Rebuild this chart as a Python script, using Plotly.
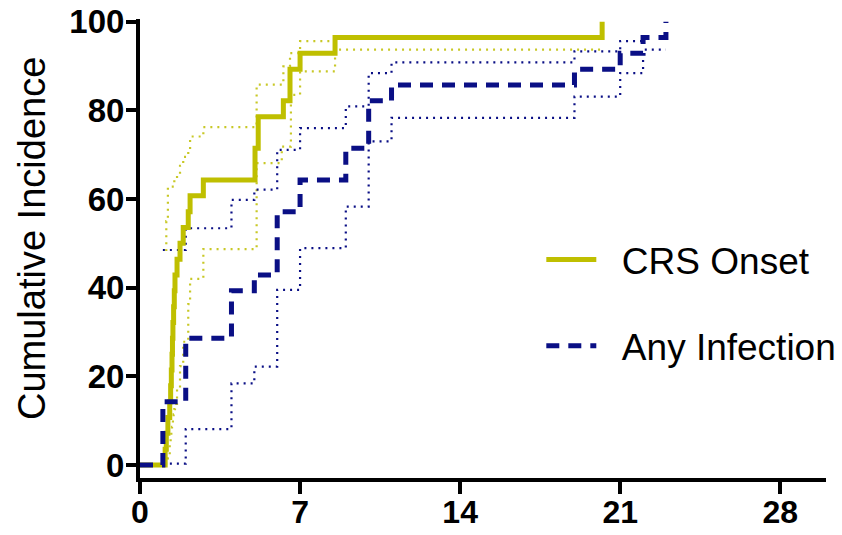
import plotly.graph_objects as go

# ---------------- data ----------------
# CRS onset (cumulative incidence, %)
crs_t = [0, 1.10, 1.15, 1.22, 1.30, 1.34, 1.37, 1.40, 1.42, 1.44, 1.47, 1.50, 1.53,
         1.62, 1.75, 1.89, 2.11, 2.19, 2.77, 5.03, 5.17, 6.27, 6.56, 7.00, 8.53, 20.21]
crs_y = [0, 3.57, 7.14, 10.71, 14.29, 17.86, 21.43, 25.00, 28.57, 32.14, 35.71, 39.29, 42.86,
         46.43, 50.00, 53.57, 57.14, 60.71, 64.29, 71.43, 78.57, 82.14, 89.29, 92.86, 96.43, 100]

crs_up_t = [1.10, 1.15, 1.22, 1.50, 1.62, 1.75, 1.89, 2.11, 2.19, 2.77, 5.10, 6.27, 6.56, 7.00, 8.53]
crs_up_y = [48.5, 55.0, 62.8, 64.0, 65.5, 67.5, 69.5, 71.1, 74.1, 76.2, 85.8, 89.9, 92.9, 95.6, 95.6]

crs_lo_t = [1.10, 1.22, 1.30, 1.34, 1.37, 1.40, 1.42, 1.44, 1.47, 1.50, 1.53, 1.62, 1.75,
            1.89, 2.11, 2.19, 2.77, 5.10, 6.20, 6.60, 7.00, 8.53, 20.21]
crs_lo_y = [0.3, 1.5, 4.6, 6.2, 7.4, 8.6, 9.5, 10.2, 11.4, 12.6, 13.8, 17.2, 22.3,
            27.8, 36.3, 42.0, 48.7, 68.1, 71.8, 83.5, 88.8, 93.7, 93.7]

# Any infection (cumulative incidence, %)
inf_t = [0, 1, 2, 4, 5, 6, 7, 9, 10, 11, 19, 21, 22, 23]
inf_y = [0, 14.29, 28.57, 39.29, 42.86, 57.14, 64.29, 71.43, 82.14, 85.71, 89.29, 92.86, 96.43, 100]

inf_up_t = [1, 2, 4, 5, 6, 7, 9, 10, 11, 19, 21, 22]
inf_up_y = [48.5, 53.4, 59.8, 62.1, 71.1, 76.0, 80.9, 88.4, 90.8, 93.3, 95.6, 95.6]

inf_lo_t = [1, 2, 4, 5, 6, 7, 9, 10, 11, 19, 21, 22, 23]
inf_lo_y = [0.3, 8.1, 18.4, 22.2, 39.5, 48.9, 58.3, 73.0, 78.3, 83.1, 88.4, 93.7, 93.7]

x_ticks = [0, 7, 14, 21, 28]
y_ticks = [0, 20, 40, 60, 80, 100]

YEL = "#bfbf00"
YEL_DOT = "#c8c826"
NAVY = "#0a0f85"

fig = go.Figure()

def ci(t, y, color):
    fig.add_trace(go.Scatter(x=t, y=y, mode="lines", line_shape="hv",
                             line=dict(color=color, width=2.2, dash="2px,5px"),
                             showlegend=False, hoverinfo="skip"))

ci(crs_up_t, crs_up_y, YEL_DOT)
ci(crs_lo_t, crs_lo_y, YEL_DOT)
ci(inf_up_t, inf_up_y, NAVY)
ci(inf_lo_t, inf_lo_y, NAVY)

NB = "\u00a0\u00a0"
fig.add_trace(go.Scatter(x=crs_t, y=crs_y, mode="lines", line_shape="hv",
                         line=dict(color=YEL, width=5), name=NB + "CRS Onset",
                         legendgroup="a"))
fig.add_trace(go.Scatter(x=inf_t, y=inf_y, mode="lines", line_shape="hv",
                         line=dict(color=NAVY, width=5, dash="13px,9px"),
                         name=NB + "Any Infection", legendgroup="b"))

FAM = "Liberation Sans, Arial, sans-serif"
tickfont = dict(family=FAM, size=32, color="black", weight="bold")

fig.update_layout(
    width=842, height=535, autosize=False,
    margin=dict(l=140, r=16, t=19, b=57, autoexpand=False),
    paper_bgcolor="white", plot_bgcolor="white",
    xaxis=dict(range=[0, 30], tickvals=x_ticks, showgrid=False, zeroline=False,
               showline=True, linecolor="black", linewidth=4, automargin=False,
               ticks="outside", ticklen=12, tickwidth=4, tickcolor="black",
               ticklabelstandoff=-9, ticklabeloverflow="allow",
               tickfont=tickfont),
    yaxis=dict(range=[-2.93, 100.6], tickvals=y_ticks, showgrid=False, zeroline=False,
               showline=True, linecolor="black", linewidth=4, automargin=False,
               ticks="outside", ticklen=10, tickwidth=4, tickcolor="black",
               ticklabelstandoff=-5, ticklabeloverflow="allow",
               tickfont=dict(tickfont, size=33)),
    legend=dict(x=0.585, y=0.5425, xanchor="left", yanchor="top",
                font=dict(family=FAM, size=37, color="black"),
                tracegroupgap=35, itemwidth=50, bgcolor="rgba(0,0,0,0)"),
    annotations=[dict(text="Cumulative Incidence", textangle=-90, showarrow=False,
                      xref="paper", yref="paper", x=-0.1574, y=0.5207,
                      xanchor="center", yanchor="middle",
                      font=dict(family=FAM, size=38, color="black"))],
)

# remove the default 8px page margin so the figure sits at the window's top-left
fig.write_html("out.html", config={"displayModeBar": False},
               post_script="document.body.style.margin='0px';")
